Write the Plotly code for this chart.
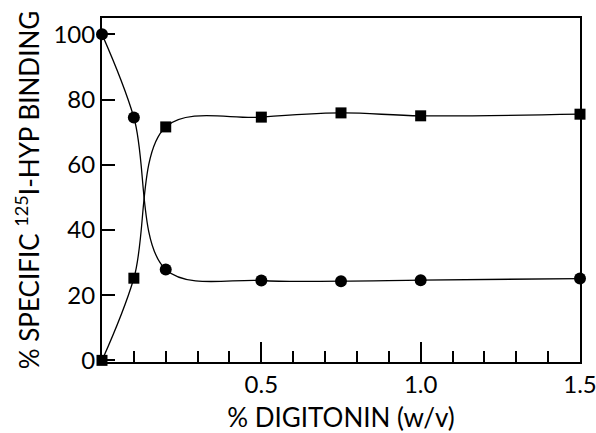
import plotly.graph_objects as go

digitonin = [0.0, 0.1, 0.2, 0.5, 0.75, 1.0, 1.5]
circles = [100.0, 74.5, 27.9, 24.5, 24.3, 24.6, 25.1]
squares = [0.0, 25.2, 71.6, 74.6, 75.9, 75.0, 75.5]
x_tick_vals = [0.5, 1.0, 1.5]
x_tick_text = ["0.5", "1.0", "1.5"]
y_tick_vals = [0, 20, 40, 60, 80, 100]

FONT = "Lato"

fig = go.Figure()
fig.add_trace(go.Scatter(
    x=digitonin, y=circles, mode="lines+markers",
    line=dict(color="black", width=1.3, shape="spline", smoothing=1.0),
    marker=dict(symbol="circle", size=12, color="black"),
    cliponaxis=False, showlegend=False))
fig.add_trace(go.Scatter(
    x=digitonin, y=squares, mode="lines+markers",
    line=dict(color="black", width=1.3, shape="spline", smoothing=1.0),
    marker=dict(symbol="square", size=11, color="black"),
    cliponaxis=False, showlegend=False))

fig.update_layout(
    width=596, height=433,
    margin=dict(l=102, r=16, t=18, b=71),
    paper_bgcolor="white", plot_bgcolor="white",
    font=dict(family=FONT, color="black", size=23),
    xaxis=dict(
        range=[0, 1.5], showgrid=False, zeroline=False, automargin=False,
        showline=True, linecolor="black", linewidth=2, mirror=True,
        tickvals=x_tick_vals, ticktext=x_tick_text,
        ticks="inside", ticklen=20, tickwidth=2, tickcolor="black",
        ticklabeloverflow="allow",
        minor=dict(tickmode="linear", tick0=0, dtick=0.1, ticks="inside",
                   ticklen=11, tickwidth=2, tickcolor="black"),
        tickfont=dict(size=24, family=FONT),
        title=dict(text="% DIGITONIN (w/v)", font=dict(size=26, family=FONT), standoff=14),
    ),
    yaxis=dict(
        range=[-0.5, 105], showgrid=False, zeroline=False, automargin=False,
        showline=True, linecolor="black", linewidth=2, mirror=True,
        tickvals=y_tick_vals,
        ticks="inside", ticklen=13, tickwidth=2, tickcolor="black",
        ticklabeloverflow="allow",
        tickfont=dict(size=24, family=FONT),
        title=dict(text="% SPECIFIC <sup>125</sup>I-HYP BINDING",
                   font=dict(size=26, family=FONT), standoff=6),
    ),
)

fig.write_html("out.html")
